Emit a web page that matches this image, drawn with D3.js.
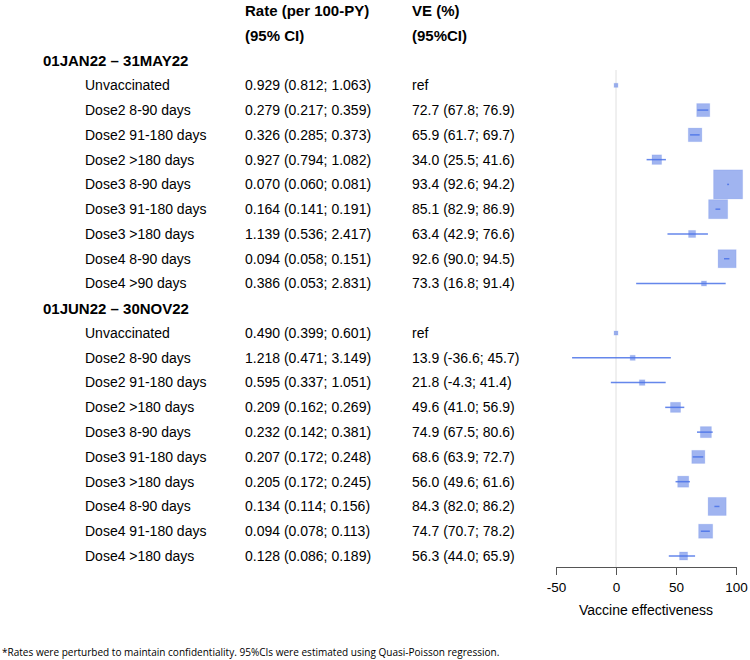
<!DOCTYPE html>
<html>
<head>
<meta charset="utf-8">
<script src="https://cdn.jsdelivr.net/npm/d3@7/dist/d3.min.js"></script>
<style>
  body { margin: 0; background: #fff; }
  svg { display: block; font-family: "Liberation Sans", Arial, sans-serif; }
</style>
</head>
<body>
<div id="chart"></div>
<script>
// Periodos y grupos
const periods = ["01JAN22 \u2013 31MAY22", "01JUN22 \u2013 30NOV22"];

const labelsP1 = ["Unvaccinated", "Dose2 8-90 days", "Dose2 91-180 days", "Dose2 >180 days",
  "Dose3 8-90 days", "Dose3 91-180 days", "Dose3 >180 days", "Dose4 8-90 days", "Dose4 >90 days"];
const labelsP2 = ["Unvaccinated", "Dose2 8-90 days", "Dose2 91-180 days", "Dose2 >180 days",
  "Dose3 8-90 days", "Dose3 91-180 days", "Dose3 >180 days", "Dose4 8-90 days",
  "Dose4 91-180 days", "Dose4 >180 days"];

// Tasa (por 100-PY) con IC
const rateP1 = ["0.929 (0.812; 1.063)", "0.279 (0.217; 0.359)", "0.326 (0.285; 0.373)", "0.927 (0.794; 1.082)",
  "0.070 (0.060; 0.081)", "0.164 (0.141; 0.191)", "1.139 (0.536; 2.417)", "0.094 (0.058; 0.151)",
  "0.386 (0.053; 2.831)"];
const rateP2 = ["0.490 (0.399; 0.601)", "1.218 (0.471; 3.149)", "0.595 (0.337; 1.051)", "0.209 (0.162; 0.269)",
  "0.232 (0.142; 0.381)", "0.207 (0.172; 0.248)", "0.205 (0.172; 0.245)", "0.134 (0.114; 0.156)",
  "0.094 (0.078; 0.113)", "0.128 (0.086; 0.189)"];

// VE (%) y IC 95% (null = referencia)
const veP1 = [0, 72.7, 65.9, 34.0, 93.4, 85.1, 63.4, 92.6, 73.3];
const loP1 = [null, 67.8, 61.7, 25.5, 92.6, 82.9, 42.9, 90.0, 16.8];
const hiP1 = [null, 76.9, 69.7, 41.6, 94.2, 86.9, 76.6, 94.5, 91.4];
const veP2 = [0, 13.9, 21.8, 49.6, 74.9, 68.6, 56.0, 84.3, 74.7, 56.3];
const loP2 = [null, -36.6, -4.3, 41.0, 67.5, 63.9, 49.6, 82.0, 70.7, 44.0];
const hiP2 = [null, 45.7, 41.4, 56.9, 80.6, 72.7, 61.6, 86.2, 78.2, 65.9];

// Peso relativo (tamaño de la caja)
const weightP1 = [4, 13, 13.5, 9.5, 29, 19, 7, 18, 5];
const weightP2 = [4, 5, 5.5, 10, 11, 13, 11, 18, 14, 8];

const xTicks = [-50, 0, 50, 100];

// Construye la lista de filas
const rows = [];
rows.push({ type: "head", a: "Rate (per 100-PY)", b: "VE (%)" });
rows.push({ type: "head", a: "(95% CI)", b: "(95%CI)" });
[[labelsP1, rateP1, veP1, loP1, hiP1, weightP1], [labelsP2, rateP2, veP2, loP2, hiP2, weightP2]]
  .forEach(([lab, rate, ve, lo, hi, w], p) => {
    rows.push({ type: "period", label: periods[p] });
    lab.forEach((l, i) => rows.push({
      type: "item", label: l, rate: rate[i], ve: ve[i], lo: lo[i], hi: hi[i], w: w[i],
      veText: lo[i] == null ? "ref" : `${ve[i].toFixed(1)} (${lo[i].toFixed(1)}; ${hi[i].toFixed(1)})`
    }));
  });

const width = 750, height = 660;
const svg = d3.select("#chart").append("svg").attr("width", width).attr("height", height);

const y = d3.scaleLinear().domain([0, rows.length - 1]).range([11, 556]);
const x = d3.scaleLinear().domain([-50, 100]).range([556, 736]);
const size = d3.scaleLinear().domain([0, 1]).range([0, 1]);
const axisY = 567;

// Línea de referencia en 0
svg.append("line")
  .attr("x1", x(0)).attr("x2", x(0))
  .attr("y1", 70).attr("y2", axisY)
  .attr("stroke", "#e0e0e0").attr("stroke-width", 1);

// Textos
const colRate = 245, colVE = 412;
const g = svg.append("g").attr("font-size", 14).attr("fill", "#000");
rows.forEach((r, i) => {
  const yy = y(i);
  if (r.type === "head") {
    g.append("text").attr("x", colRate).attr("y", yy).attr("dy", "0.35em")
      .attr("font-weight", "bold").attr("font-size", 15).text(r.a);
    g.append("text").attr("x", colVE).attr("y", yy).attr("dy", "0.35em")
      .attr("font-weight", "bold").attr("font-size", 15).text(r.b);
  } else if (r.type === "period") {
    g.append("text").attr("x", 43).attr("y", yy).attr("dy", "0.35em")
      .attr("font-weight", "bold").attr("font-size", 15).text(r.label);
  } else {
    g.append("text").attr("x", 85).attr("y", yy).attr("dy", "0.35em").text(r.label);
    g.append("text").attr("x", colRate).attr("y", yy).attr("dy", "0.35em").text(r.rate);
    g.append("text").attr("x", colVE).attr("y", yy).attr("dy", "0.35em").text(r.veText);
  }
});

// Marcas del forest plot
const items = rows.map((r, i) => ({ ...r, i })).filter(r => r.type === "item");
const marks = svg.append("g");
marks.selectAll("rect")
  .data(items)
  .join("rect")
  .attr("x", d => x(d.ve) - size(d.w) / 2)
  .attr("y", d => y(d.i) - size(d.w) / 2)
  .attr("width", d => size(d.w))
  .attr("height", d => size(d.w))
  .attr("fill", "#4169e1")
  .attr("fill-opacity", 0.5)
  .attr("stroke", "#4169e1")
  .attr("stroke-opacity", 0.15);
marks.selectAll("line")
  .data(items.filter(d => d.lo != null))
  .join("line")
  .attr("x1", d => x(d.lo)).attr("x2", d => x(d.hi))
  .attr("y1", d => y(d.i)).attr("y2", d => y(d.i))
  .attr("stroke", "#4a72e8").attr("stroke-width", 1.5).attr("stroke-opacity", 0.85);

// Eje X
const axis = svg.append("g")
  .attr("transform", `translate(0,${axisY})`)
  .call(d3.axisBottom(x).tickValues(xTicks).tickFormat(d => String(d))
    .tickSize(8).tickSizeOuter(0).tickPadding(7));
axis.select(".domain").attr("stroke", "#555");
axis.selectAll(".tick line").attr("stroke", "#555");
axis.selectAll(".tick text").attr("font-size", 13.5).attr("fill", "#000")
  .attr("font-family", "Liberation Sans, Arial, sans-serif");

svg.append("text")
  .attr("x", x(25)).attr("y", 610).attr("dy", "0.35em")
  .attr("text-anchor", "middle").attr("font-size", 14)
  .text("Vaccine effectiveness");

// Nota al pie (ajusta tamaño para ocupar ~498 px)
const foot = svg.append("text")
  .attr("x", 2).attr("y", 652).attr("dy", "0.35em")
  .attr("font-size", 11).attr("font-family", "'Open Sans', sans-serif")
  .text("*Rates were perturbed to maintain confidentiality. 95%CIs were estimated using Quasi-Poisson regression.");
const fw = foot.node().getComputedTextLength();
foot.attr("font-size", 11 * 498 / fw);
</script>
</body>
</html>
